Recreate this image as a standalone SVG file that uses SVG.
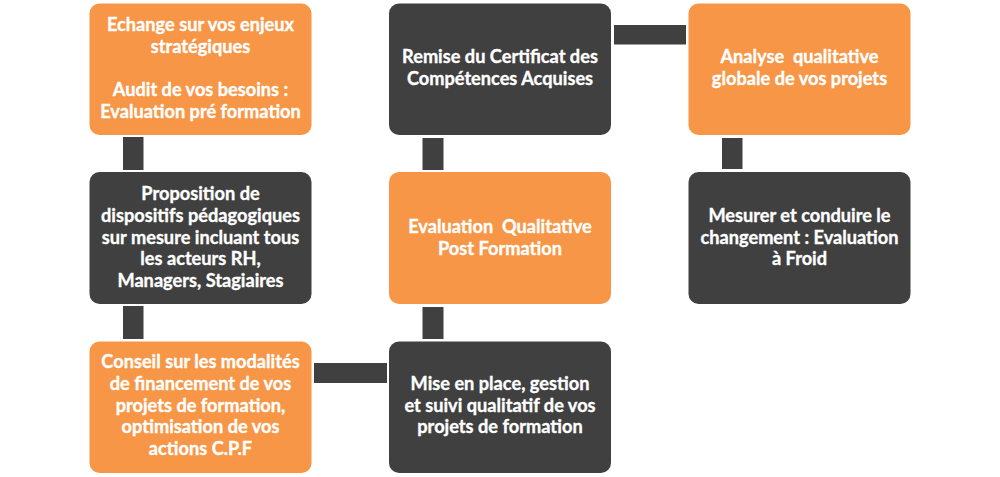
<svg xmlns="http://www.w3.org/2000/svg" width="1000" height="477" viewBox="0 0 1000 477">
<style>
.o{fill:#F79646}
.d{fill:#404040}
.c{fill:#404040}
text{font-family:Lato,"Liberation Sans",sans-serif;font-weight:bold;font-size:18.2px;fill:#FFFFFF;stroke:#FFFFFF;stroke-width:0.35;text-anchor:middle}
</style>
<rect width="1000" height="477" fill="#FFFFFF"/>
<g id="connectors">
<rect class="c" x="123" y="137" width="20.5" height="33"/>
<rect class="c" x="123" y="306" width="20.5" height="33"/>
<rect class="c" x="314" y="363" width="73" height="20"/>
<rect class="c" x="422.5" y="307" width="21" height="32"/>
<rect class="c" x="422.5" y="138" width="21" height="32"/>
<rect class="c" x="614" y="25" width="72" height="19.5"/>
<rect class="c" x="722" y="138" width="20.5" height="31"/>
</g>
<g id="n1">
<rect class="o" x="89.5" y="3.5" width="222" height="131.5" rx="10"/>
<text x="200.5" y="31">Echange sur vos enjeux</text>
<text x="200.5" y="52.5">stratégiques</text>
<text x="200.5" y="96">Audit de vos besoins :</text>
<text x="200.5" y="117.5">Evaluation pré formation</text>
</g>
<g id="n2">
<rect class="d" x="89.5" y="172" width="222" height="132" rx="10"/>
<text x="200.5" y="200">Proposition de</text>
<text x="200.5" y="222">dispositifs pédagogiques</text>
<text x="200.5" y="243.5">sur mesure incluant tous</text>
<text x="200.5" y="265">les acteurs RH,</text>
<text x="200.5" y="287">Managers, Stagiaires</text>
</g>
<g id="n3">
<rect class="o" x="89.5" y="341.5" width="222" height="131.5" rx="10"/>
<text x="200.5" y="368">Conseil sur les modalités</text>
<text x="200.5" y="390">de financement de vos</text>
<text x="200.5" y="411.5">projets de formation,</text>
<text x="200.5" y="433">optimisation de vos</text>
<text x="200.5" y="455">actions C.P.F</text>
</g>
<g id="n4">
<rect class="d" x="389" y="341.5" width="222" height="131.5" rx="10"/>
<text x="500" y="390">Mise en place, gestion</text>
<text x="500" y="411.5">et suivi qualitatif de vos</text>
<text x="500" y="433">projets de formation</text>
</g>
<g id="n5">
<rect class="o" x="389" y="172" width="222" height="132" rx="10"/>
<text x="500" y="233" xml:space="preserve">Evaluation  Qualitative</text>
<text x="500" y="255">Post Formation</text>
</g>
<g id="n6">
<rect class="d" x="389" y="3.5" width="222" height="131.5" rx="10"/>
<text x="500" y="63">Remise du Certificat des</text>
<text x="500" y="85">Compétences Acquises</text>
</g>
<g id="n7">
<rect class="o" x="688.5" y="3.5" width="222" height="131.5" rx="10"/>
<text x="799.5" y="63" xml:space="preserve">Analyse  qualitative</text>
<text x="799.5" y="85">globale de vos projets</text>
</g>
<g id="n8">
<rect class="d" x="688.5" y="172" width="222" height="132" rx="10"/>
<text x="799.5" y="222">Mesurer et conduire le</text>
<text x="799.5" y="243.5">changement : Evaluation</text>
<text x="799.5" y="265">à Froid</text>
</g>
</svg>
